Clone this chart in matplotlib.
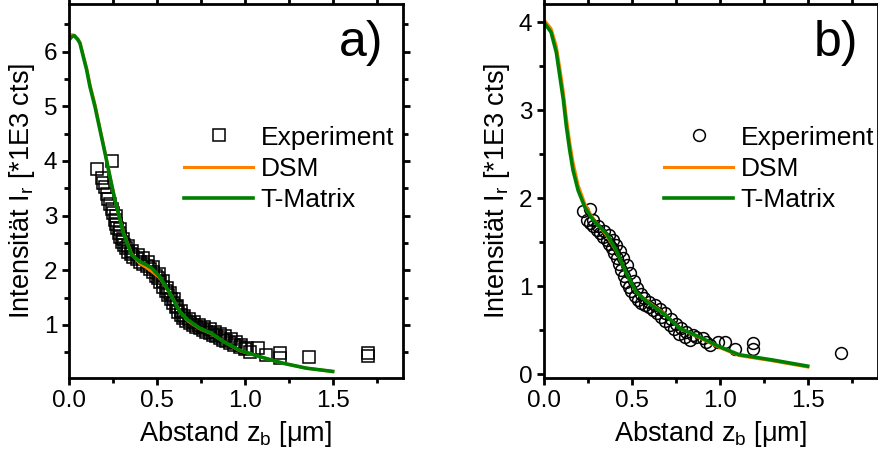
import matplotlib
matplotlib.use("Agg")
import matplotlib.pyplot as plt
from matplotlib.ticker import MultipleLocator

plt.rcParams['font.family'] = ['Liberation Sans', 'DejaVu Sans']
plt.rcParams['mathtext.fontset'] = 'custom'
plt.rcParams['mathtext.rm'] = 'Liberation Sans'
plt.rcParams['mathtext.it'] = 'Liberation Sans'

# ---- panel a data ----
a_exp_x = [0.157, 0.243, 0.186, 0.195, 0.205, 0.214, 0.222, 0.233, 0.242, 0.252,
           0.261, 0.268, 0.274, 0.282, 0.29, 0.30, 0.3125, 0.325, 0.337, 0.35,
           0.365, 0.385, 0.403, 0.42, 0.441, 0.46, 0.479, 0.495, 0.507, 0.52,
           0.536, 0.55, 0.564, 0.578, 0.593, 0.607, 0.621, 0.635, 0.65, 0.668,
           0.6875, 0.705, 0.725, 0.745, 0.763, 0.78, 0.80, 0.82, 0.839, 0.86,
           0.877, 0.895, 0.915, 0.94, 0.97, 1.00, 1.03, 1.076, 1.123, 1.199,
           1.20, 1.366, 1.70, 1.70,
           0.27, 0.29, 0.31, 0.335, 0.36, 0.39, 0.42, 0.45, 0.48, 0.51,
           0.535, 0.555, 0.575, 0.595, 0.615, 0.635, 0.655, 0.68, 0.71, 0.74,
           0.77, 0.80, 0.83, 0.86, 0.89, 0.92, 0.95, 0.98, 1.01]
a_exp_y = [3.86, 4.00, 3.68, 3.60, 3.53, 3.40, 3.30, 3.22, 3.12, 3.05,
           2.92, 2.85, 2.77, 2.68, 2.60, 2.52, 2.46, 2.40, 2.34, 2.29,
           2.25, 2.20, 2.16, 2.11, 2.07, 2.02, 1.97, 1.90, 1.85, 1.78,
           1.70, 1.62, 1.55, 1.47, 1.40, 1.32, 1.24, 1.18, 1.12, 1.07,
           1.03, 1.00, 0.97, 0.94, 0.91, 0.88, 0.85, 0.82, 0.79, 0.76,
           0.73, 0.70, 0.67, 0.64, 0.60, 0.56, 0.51, 0.57, 0.45, 0.48,
           0.39, 0.41, 0.48, 0.43,
           3.00, 2.75, 2.58, 2.45, 2.35, 2.28, 2.22, 2.15, 2.06, 1.93,
           1.80, 1.68, 1.58, 1.47, 1.35, 1.26, 1.17, 1.10, 1.05, 1.00,
           0.96, 0.92, 0.88, 0.84, 0.80, 0.74, 0.68, 0.63, 0.58]

a_tm_x = [0.0, 0.015, 0.03, 0.05, 0.0625, 0.081, 0.10, 0.119, 0.148, 0.176,
          0.205, 0.233, 0.261, 0.28, 0.309, 0.356, 0.403, 0.44, 0.47, 0.517,
          0.574, 0.63, 0.678, 0.744, 0.81, 0.877, 0.97, 1.085, 1.218, 1.35, 1.5]
a_tm_y = [6.21, 6.27, 6.29, 6.22, 6.15, 5.91, 5.67, 5.36, 4.99, 4.57,
          4.14, 3.71, 3.29, 3.05, 2.68, 2.28, 2.16, 2.10, 2.04, 1.88,
          1.58, 1.24, 1.09, 0.94, 0.85, 0.70, 0.54, 0.42, 0.30, 0.21, 0.15]
a_dsm_x = [0.0, 0.015, 0.03, 0.05, 0.0625, 0.081, 0.10, 0.119, 0.148, 0.176,
           0.205, 0.233, 0.261, 0.28, 0.309, 0.356, 0.403, 0.44, 0.47, 0.517,
           0.574, 0.63, 0.678, 0.744, 0.81, 0.877, 0.97, 1.085, 1.218, 1.35, 1.5]
a_dsm_y = [6.27, 6.31, 6.30, 6.23, 6.16, 5.93, 5.70, 5.40, 5.03, 4.60,
           4.16, 3.72, 3.30, 3.06, 2.70, 2.30, 2.12, 2.05, 1.98, 1.86,
           1.58, 1.25, 1.07, 0.93, 0.84, 0.70, 0.53, 0.42, 0.30, 0.21, 0.15]

# ---- panel b data ----
b_exp_x = [0.223, 0.261, 0.243, 0.26, 0.28, 0.30, 0.318, 0.336, 0.356, 0.37,
           0.385, 0.40, 0.413, 0.427, 0.44, 0.455, 0.468, 0.482, 0.497, 0.515,
           0.535, 0.552, 0.572, 0.595, 0.62, 0.645, 0.667, 0.69, 0.714, 0.74,
           0.77, 0.80, 0.83, 0.866, 0.905, 0.943, 0.92, 0.99, 1.028, 1.085,
           1.19, 1.19, 1.69,
           0.28, 0.31, 0.34, 0.37, 0.39, 0.41, 0.43, 0.45, 0.47, 0.49,
           0.51, 0.53, 0.55, 0.57, 0.60, 0.63, 0.66, 0.69, 0.72, 0.75,
           0.78, 0.81, 0.85]
b_exp_y = [1.85, 1.88, 1.75, 1.72, 1.68, 1.64, 1.60, 1.56, 1.52, 1.48,
           1.43, 1.38, 1.32, 1.25, 1.18, 1.11, 1.05, 0.99, 0.94, 0.89,
           0.84, 0.81, 0.785, 0.76, 0.73, 0.69, 0.65, 0.60, 0.56, 0.51,
           0.46, 0.42, 0.39, 0.42, 0.41, 0.33, 0.36, 0.37, 0.37, 0.29,
           0.35, 0.29, 0.24,
           1.75, 1.68, 1.63, 1.58, 1.53, 1.47, 1.40, 1.32, 1.24, 1.15,
           1.06, 0.98, 0.91, 0.86, 0.82, 0.78, 0.74, 0.69, 0.63, 0.57,
           0.52, 0.48, 0.44]

b_tm_x = [0.0, 0.04, 0.07, 0.09, 0.11, 0.127, 0.146, 0.165, 0.194, 0.232,
          0.27, 0.298, 0.355, 0.411, 0.468, 0.525, 0.60, 0.678, 0.773, 0.886,
          1.0, 1.11, 1.30, 1.5]
b_tm_y = [4.00, 3.89, 3.66, 3.39, 3.12, 2.82, 2.55, 2.32, 2.09, 1.90,
          1.78, 1.71, 1.60, 1.41, 1.15, 0.93, 0.80, 0.69, 0.52, 0.42,
          0.31, 0.22, 0.16, 0.09]
b_dsm_x = [0.0, 0.04, 0.07, 0.09, 0.11, 0.127, 0.146, 0.165, 0.194, 0.232,
           0.27, 0.298, 0.355, 0.411, 0.468, 0.525, 0.60, 0.678, 0.773, 0.886,
           1.0, 1.11, 1.30, 1.5]
b_dsm_y = [4.03, 3.93, 3.73, 3.48, 3.21, 2.92, 2.64, 2.41, 2.15, 1.94,
           1.80, 1.72, 1.58, 1.40, 1.15, 0.93, 0.81, 0.70, 0.52, 0.41,
           0.30, 0.21, 0.15, 0.08]

orange = '#ff8000'
green = '#008000'

fig = plt.figure(figsize=(8.79, 4.62), dpi=100)
ax_a = fig.add_axes([69/879, 84/462, 334/879, 374/462])
ax_b = fig.add_axes([544/879, 84/462, 334/879, 374/462])

panels = [
    (ax_a, a_exp_x, a_exp_y, a_dsm_x, a_dsm_y, a_tm_x, a_tm_y, 's', (0.03, 6.87), 'a)', 0.345),
    (ax_b, b_exp_x, b_exp_y, b_dsm_x, b_dsm_y, b_tm_x, b_tm_y, 'o', (-0.045, 4.21), 'b)', 0.36),
]

for ax, ex, ey, dx, dy, tx, ty, mk, ylim, tag, lx in panels:
    ax.plot(ex, ey, linestyle='none', marker=mk, markersize=8.5,
            markerfacecolor='none', markeredgecolor='black', markeredgewidth=1.1,
            label='Experiment')
    ax.plot(dx, dy, color=orange, lw=2.2, label='DSM')
    ax.plot(tx, ty, color=green, lw=2.6, label='T-Matrix')
    ax.set_xlim(0, 1.9)
    ax.set_ylim(*ylim)
    ax.xaxis.set_major_locator(MultipleLocator(0.5))
    ax.xaxis.set_minor_locator(MultipleLocator(0.25))
    ax.yaxis.set_major_locator(MultipleLocator(1))
    ax.yaxis.set_minor_locator(MultipleLocator(0.5))
    ax.xaxis.set_major_formatter(plt.FormatStrFormatter('%.1f'))
    for s in ax.spines.values():
        s.set_linewidth(2)
    ax.tick_params(which='both', direction='out', top=True, right=True,
                   width=2, labelsize=17.5)
    ax.tick_params(which='major', length=5)
    ax.tick_params(which='minor', length=3.5)
    ax.set_xlabel(r'Abstand z$_\mathregular{b}$ [μm]', fontsize=19.5, labelpad=5)
    ax.set_ylabel(r'Intensität I$_\mathregular{r}$ [*1E3 cts]', fontsize=19.5, labelpad=5)
    ax.text(0.94, 0.957, tag, transform=ax.transAxes, ha='right', va='top',
            fontsize=36)
    ax.legend(loc='upper left', bbox_to_anchor=(lx, 0.675), frameon=False,
              fontsize=19, handlelength=2.6, handletextpad=0.3,
              labelspacing=0.28, borderpad=0, borderaxespad=0)

fig.savefig('out.png', dpi=100)
